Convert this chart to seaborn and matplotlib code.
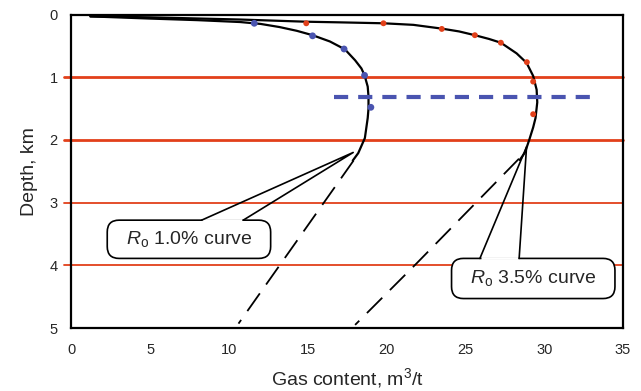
import numpy as np
import pandas as pd
import matplotlib
matplotlib.use('Agg')
import matplotlib.pyplot as plt
import seaborn as sns
from matplotlib.patches import FancyBboxPatch

# curve: gas content (m3/t) vs depth (km)
ro10_gas = [1.2, 5.0, 8.0, 10.7, 12.0, 13.2, 14.3, 15.3, 16.4, 17.35, 18.0, 18.4, 18.6, 18.8, 18.85, 18.85, 18.8, 18.62, 18.2, 17.85]
ro10_depth = [0.03, 0.065, 0.09, 0.12, 0.15, 0.20, 0.26, 0.33, 0.43, 0.555, 0.73, 0.86, 0.97, 1.15, 1.31, 1.5, 1.65, 1.97, 2.21, 2.33]
ro35_gas = [1.2, 5.0, 10.7, 14.9, 17.0, 19.8, 21.7, 23.5, 24.6, 25.6, 26.5, 27.25, 28.25, 28.88, 29.3, 29.52, 29.56, 29.45, 29.3, 29.05, 28.78, 28.45]
ro35_depth = [0.03, 0.045, 0.08, 0.115, 0.125, 0.14, 0.165, 0.225, 0.27, 0.33, 0.39, 0.45, 0.62, 0.77, 0.98, 1.2, 1.4, 1.65, 1.8, 2.0, 2.2, 2.32]

# dashed extrapolations
ext10_gas = [17.9, 10.6]
ext10_depth = [2.33, 4.93]
ext35_gas = [28.4, 21.9, 18.0]
ext35_depth = [2.3, 3.97, 4.95]

# measured points
blue_gas = [11.6, 15.3, 17.3, 18.6, 19.0]
blue_depth = [0.14, 0.34, 0.55, 0.97, 1.48]
red_gas = [14.9, 19.8, 23.5, 25.6, 27.25, 28.9, 29.3, 29.3]
red_depth = [0.14, 0.14, 0.23, 0.33, 0.45, 0.76, 1.07, 1.59]

# horizontal marker lines
red_lines = [1, 2, 3, 4]
red_widths = [2.0, 2.0, 1.3, 1.3]
blue_dash_gas = [16.65, 32.9]
blue_dash_depth = [1.31, 1.31]

RED = '#E2401A'
BLUE = '#4A54B0'

sns.set_style('white')
plt.rcParams['font.family'] = ['Liberation Sans', 'DejaVu Sans']
plt.rcParams['mathtext.fontset'] = 'custom'
plt.rcParams['mathtext.rm'] = 'Liberation Sans'
plt.rcParams['mathtext.it'] = 'Liberation Sans:italic'

fig = plt.figure(figsize=(6.41, 3.91), dpi=100)
ax = fig.add_axes([0.1115, 0.1611, 0.8604, 0.8018])

for d, w in zip(red_lines, red_widths):
    ax.axhline(d, xmin=-0.013, xmax=1, color=RED, lw=w, clip_on=False, zorder=1)

sns.lineplot(x=ro10_gas, y=ro10_depth, sort=False, estimator=None, color='black', lw=1.6, ax=ax, zorder=3)
sns.lineplot(x=ro35_gas, y=ro35_depth, sort=False, estimator=None, color='black', lw=1.6, ax=ax, zorder=3)
sns.lineplot(x=ext10_gas, y=ext10_depth, sort=False, estimator=None, color='black', lw=1.3,
             linestyle=(0, (12, 6)), ax=ax, zorder=3)
sns.lineplot(x=ext35_gas, y=ext35_depth, sort=False, estimator=None, color='black', lw=1.3,
             linestyle=(0, (12, 6)), ax=ax, zorder=3)
sns.lineplot(x=blue_dash_gas, y=blue_dash_depth, sort=False, estimator=None, color=BLUE, lw=3,
             linestyle=(0, (3.4, 2.4)), ax=ax, zorder=4)
sns.scatterplot(x=blue_gas, y=blue_depth, color=BLUE, s=24, edgecolor='none', ax=ax, zorder=5)
sns.scatterplot(x=red_gas, y=red_depth, color=RED, s=18, edgecolor='none', ax=ax, zorder=5)

ax.set_xlim(0, 35)
ax.set_ylim(5, 0)
ax.set_xticks(range(0, 36, 5))
ax.set_yticks(range(0, 6))

# callouts
aspect = (623 - 71.5) / 35 / ((328 - 14.5) / 5)
callouts = [
    # box x0, y0, x1, y1, apex, base left x, base right x, label
    (2.27, 3.28, 12.64, 3.89, (17.88, 2.20), 8.26, 10.9, r'$\mathit{R}_{\mathrm{o}}$ 1.0% curve'),
    (24.12, 3.89, 34.49, 4.53, (28.88, 2.11), 25.92, 28.41, r'$\mathit{R}_{\mathrm{o}}$ 3.5% curve'),
]
for x0, y0, x1, y1, apex, bl, br, label in callouts:
    box = FancyBboxPatch((x0, y0), x1 - x0, y1 - y0, boxstyle='round,pad=0,rounding_size=0.75',
                         mutation_aspect=aspect, fc='white', ec='black', lw=1.2, zorder=6)
    ax.add_patch(box)
    ax.plot([bl + 0.05, br - 0.05], [y0, y0], color='white', lw=2.0, zorder=7, solid_capstyle='butt')
    ax.plot([bl, apex[0], br], [y0, apex[1], y0], color='black', lw=1.2, zorder=7)
    ax.text((x0 + x1) / 2, (y0 + y1) / 2, label, ha='center', va='center', fontsize=14, zorder=8)

for s in ax.spines.values():
    s.set_visible(True)
    s.set_color('black')
    s.set_linewidth(1.6)

ax.tick_params(axis='x', direction='out', length=5, width=2, color='black', labelsize=10.5, pad=6)
ax.tick_params(axis='y', length=0, labelsize=10.5, pad=10)
ax.set_xlabel(r'Gas content, m$^{3}$/t', fontsize=14, labelpad=6)
ax.set_ylabel('Depth, km', fontsize=14, labelpad=8)

fig.savefig('out.png', dpi=100)
